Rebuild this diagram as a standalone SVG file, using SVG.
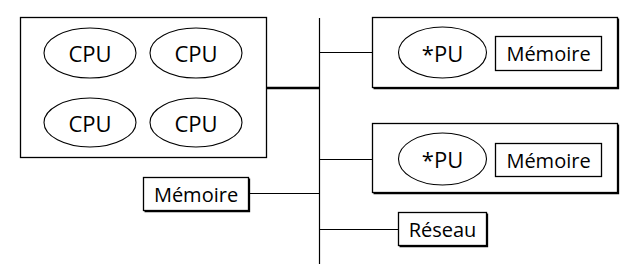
<svg xmlns="http://www.w3.org/2000/svg" width="641" height="278" viewBox="0 0 641 278">
<style>
.box{fill:#fff;stroke:#000;stroke-width:1.3}
.sh{fill:none;stroke:#000;stroke-width:1.3}
.el{fill:#fff;stroke:#000;stroke-width:1.1}
.ln{fill:none;stroke:#000;stroke-width:1.2}
.thick{stroke-width:2.4}
.t{font-family:"Open Sans","DejaVu Sans",sans-serif;fill:#000;text-anchor:middle;dominant-baseline:central}
.big{font-size:22px}
.sm{font-size:20px}
</style>
<rect width="641" height="278" fill="#fff"/>
<g id="connectors">
<line class="ln" x1="319.5" y1="18" x2="319.5" y2="264"/>
<line class="ln thick" x1="267" y1="88" x2="319.5" y2="88"/>
<line class="ln" x1="319.5" y1="52.5" x2="372" y2="52.5"/>
<line class="ln" x1="319.5" y1="159.5" x2="372" y2="159.5"/>
<line class="ln" x1="249" y1="193.5" x2="319.5" y2="193.5"/>
<line class="ln" x1="319.5" y1="229.5" x2="398" y2="229.5"/>
</g>
<g id="smp">
<rect class="box" x="20.5" y="17.5" width="246" height="140"/>
<ellipse class="el" cx="90" cy="53" rx="46" ry="25"/>
<text class="t big" x="90" y="53">CPU</text>
<ellipse class="el" cx="196" cy="53" rx="46" ry="25"/>
<text class="t big" x="196" y="53">CPU</text>
<ellipse class="el" cx="90" cy="122.5" rx="46" ry="24.5"/>
<text class="t big" x="90" y="122.5">CPU</text>
<ellipse class="el" cx="196" cy="122.5" rx="46" ry="24.5"/>
<text class="t big" x="196" y="122.5">CPU</text>
</g>
<g id="node1">
<rect class="box" x="372.5" y="17.5" width="245" height="70"/>
<path class="sh" d="M618.5 18.5V88.5H373.5"/>
<ellipse class="el" cx="442.5" cy="52.5" rx="44" ry="25.5"/>
<text class="t big" x="442.5" y="52.5">*PU</text>
<rect class="box" x="495.5" y="36.5" width="106" height="34"/>
<text class="t sm" x="548.5" y="53.5">Mémoire</text>
</g>
<g id="node2">
<rect class="box" x="372.5" y="123.5" width="245" height="69"/>
<path class="sh" d="M618.5 124.5V193.5H373.5"/>
<ellipse class="el" cx="442.5" cy="159" rx="44" ry="26"/>
<text class="t big" x="442.5" y="159">*PU</text>
<rect class="box" x="495.5" y="143.5" width="106" height="33"/>
<text class="t sm" x="548.5" y="160">Mémoire</text>
</g>
<g id="memoire">
<rect class="box" x="143.5" y="177.5" width="105" height="33"/>
<path class="sh" d="M249.5 178.5V211.5H144.5"/>
<text class="t sm" x="196" y="194">Mémoire</text>
</g>
<g id="reseau">
<rect class="box" x="398.5" y="212.5" width="88" height="33"/>
<path class="sh" d="M487.5 213.5V246.5H399.5"/>
<text class="t sm" x="442.5" y="229">Réseau</text>
</g>
</svg>
